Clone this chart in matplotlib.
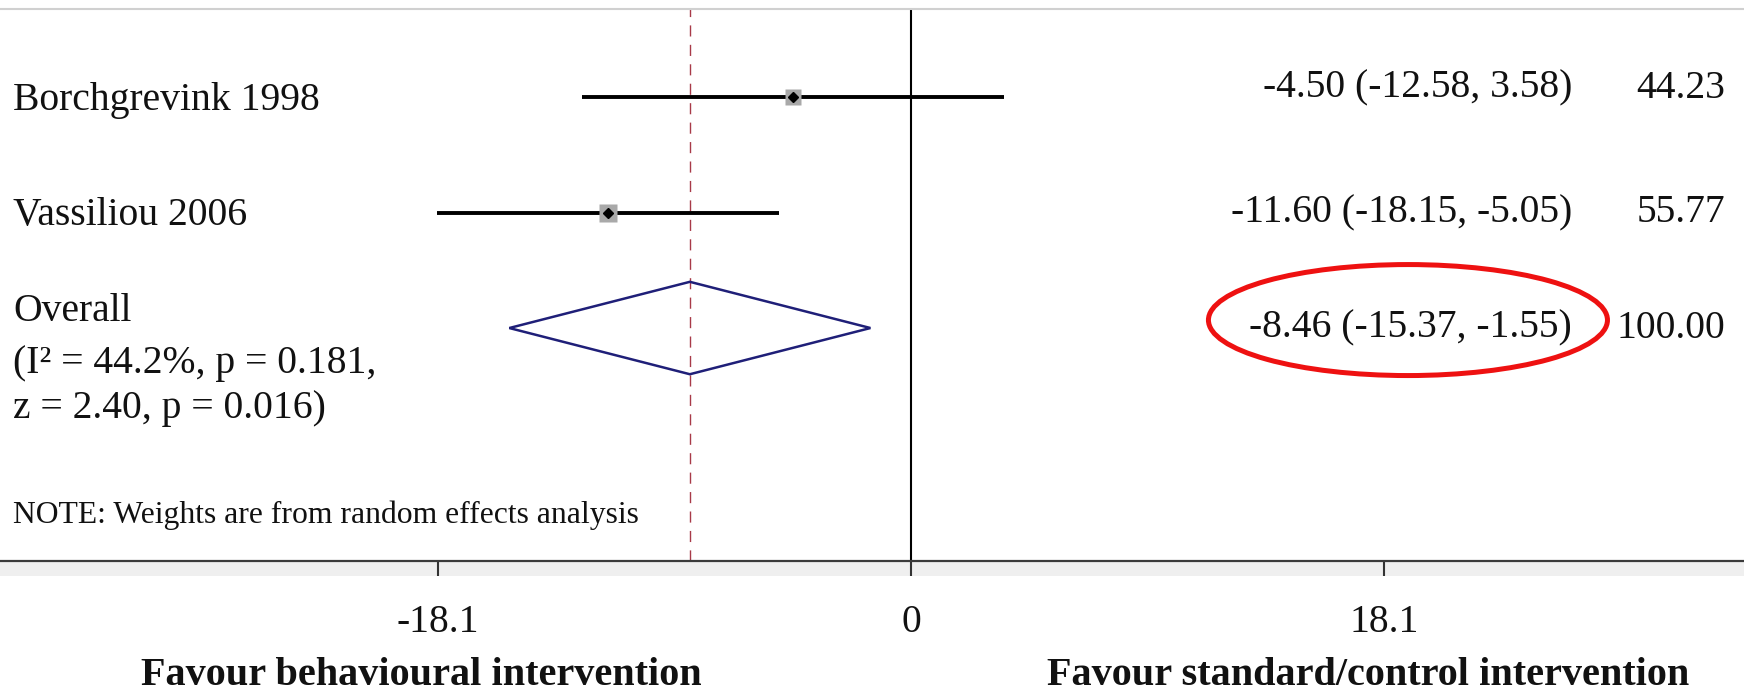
import numpy as np
import matplotlib
matplotlib.use('Agg')
import matplotlib.pyplot as plt
from matplotlib.patches import Ellipse, Polygon, Rectangle
from matplotlib.transforms import blended_transform_factory

plt.rcParams['font.family'] = ['Liberation Serif', 'DejaVu Serif']

# study level results (mean difference, 95% CI, % weight)
studies = ['Borchgrevink 1998', 'Vassiliou 2006']
effects = [-4.50, -11.60]
lower = [-12.58, -18.15]
upper = [3.58, -5.05]
weights = [44.23, 55.77]

# pooled result
overall_es = -8.46
overall_lo = -15.37
overall_hi = -1.55
overall_weight = 100.00
overall_text = ['Overall', '(I\u00b2 = 44.2%, p = 0.181,', 'z = 2.40, p = 0.016)']
note = 'NOTE: Weights are from random effects analysis'

tick_values = [-18.1, 0, 18.1]
tick_labels = ['-18.1', '0', '18.1']
left_label = 'Favour behavioural intervention'
right_label = 'Favour standard/control intervention'

fig = plt.figure(figsize=(17.44, 6.91), dpi=100)
ax = fig.add_axes([0, 130 / 691, 1, 552 / 691])
ax.set_xlim(-34.86, 31.88)
ax.set_ylim(4.017, -0.762)

txt = '#111111'
fs = 28.5
mixed = blended_transform_factory(ax.transAxes, ax.transData)

# reference lines
ax.axvline(0, color='black', lw=1.5, zorder=1)
ax.axvline(overall_es, color='#a83a48', lw=1.0, linestyle=(0, (8, 6)), zorder=1)

# studies (the first row's figures sit a little higher in the original)
col_shift = [-0.075, 0.0]
for i in range(len(studies)):
    ax.hlines(i, lower[i], upper[i], color='black', lw=2.8, zorder=2)
    ax.plot(effects[i], i, marker='s', ms=1.8 * np.sqrt(weights[i]),
            color='#a9a9a9', mec='none', zorder=3)
    ax.plot(effects[i], i, marker='D', ms=5, color='black', zorder=4)
    ax.text(0.0075, i + 0.03, studies[i], transform=mixed, ha='left', va='center',
            fontsize=fs, color=txt)
    ax.text(0.9014, i + col_shift[i],
            f'{effects[i]:.2f} ({lower[i]:.2f}, {upper[i]:.2f})',
            transform=mixed, ha='right', va='center', fontsize=fs, color=txt)
    ax.text(0.9891, i + col_shift[i], f'{weights[i]:.2f}', transform=mixed,
            ha='right', va='center', fontsize=fs, color=txt)

# pooled diamond
row = len(studies)
h = 0.40
diamond = Polygon([(overall_lo, row), (overall_es, row - h),
                   (overall_hi, row), (overall_es, row + h)],
                  closed=True, fill=False, edgecolor='#1f1f78', lw=1.8, zorder=3)
ax.add_patch(diamond)
ax.text(0.9014, row, f'{overall_es:.2f} ({overall_lo:.2f}, {overall_hi:.2f})',
        transform=mixed, ha='right', va='center', fontsize=fs, color=txt)
ax.text(0.9891, row, f'{overall_weight:.2f}', transform=mixed, ha='right',
        va='center', fontsize=fs, color=txt)
for line, y in zip(overall_text, [row - 0.14, row + 0.305, row + 0.695]):
    ax.text(0.0075, y, line, transform=mixed, ha='left', va='center',
            fontsize=fs, color=txt)

ax.text(0.0075, row + 1.625, note, transform=mixed, ha='left', va='center',
        fontsize=22.8, color=txt)

# red highlight round the pooled estimate
ax.add_patch(Ellipse((19.02, row - 0.069), 15.27, 0.961, fill=False,
                     edgecolor='#ee1111', lw=3.6, zorder=5))

# axes styling
for side in ['left', 'right']:
    ax.spines[side].set_visible(False)
ax.spines['top'].set_color('#d0d0d0')
ax.spines['top'].set_linewidth(1.5)
ax.spines['bottom'].set_color('#3a3a3a')
ax.spines['bottom'].set_linewidth(1.6)
ax.set_yticks([])
ax.set_xticks(tick_values, tick_labels)
ax.tick_params(axis='x', direction='out', length=10.8, width=1.5,
               color='#333333', pad=20, labelsize=fs, labelcolor=txt)

fig.add_artist(Rectangle((0, 115 / 691), 1, 15 / 691, transform=fig.transFigure,
                         facecolor='#efefef', edgecolor='none', zorder=-1))

fig.text(0.2414, 0.023, left_label, ha='center', va='center',
         fontsize=29, fontweight='bold', color=txt)
fig.text(0.7844, 0.023, right_label, ha='center', va='center',
         fontsize=29, fontweight='bold', color=txt)

fig.savefig('out.png', dpi=100)
